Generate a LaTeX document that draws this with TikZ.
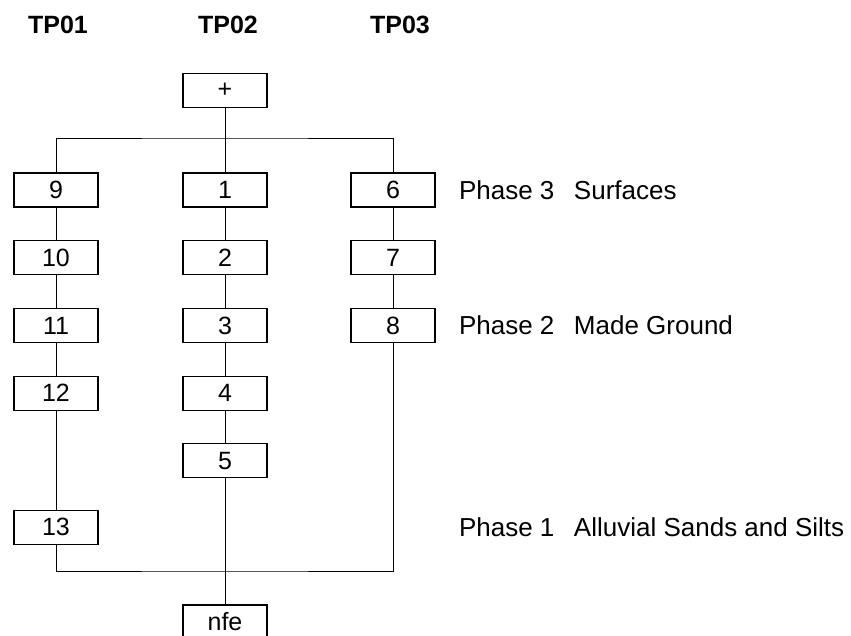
\documentclass[tikz,border=0pt]{standalone}
\usepackage{fontspec}
\setmainfont{Liberation Sans}
\usetikzlibrary{positioning}

\begin{document}
\begin{tikzpicture}[
    x=0.5pt, y=-0.5pt,
    node distance=16.25pt,
    layer/.style={rectangle, draw, line width=0.6pt, minimum width=42pt,
                  minimum height=17pt, inner sep=0pt,
                  font=\fontsize{12.5}{14}\selectfont},
    hole/.style={font=\bfseries\fontsize{12.5}{15}\selectfont},
    phase/.style={inner sep=0pt, font=\fontsize{13}{15}\selectfont},
    link/.style={line width=0.4pt}
  ]
    \useasboundingbox (0,0) rectangle (851,636);

    \node[hole] (tp1) at (58,25) {TP01};
    \node[hole] (tp2) at (228,25) {TP02};
    \node[hole] (tp3) at (400,25) {TP03};

    \node[layer] (plus) at (225,90.5) {+};
    \coordinate (top) at (225,138);
    \coordinate (bot) at (225,571);

    % TP01
    \node[layer] (b9) at (56,190) {9};
    \node[layer, below=of b9] (b10) {10};
    \node[layer, below=of b10] (b11) {11};
    \node[layer, below=of b11] (b12) {12};
    \node[layer, below=49.5pt of b12] (b13) {13};
    % TP02
    \node[layer] (b1) at (225,190) {1};
    \node[layer, below=of b1] (b2) {2};
    \node[layer, below=of b2] (b3) {3};
    \node[layer, below=of b3] (b4) {4};
    \node[layer, below=of b4] (b5) {5};
    % TP03
    \node[layer] (b6) at (393,190) {6};
    \node[layer, below=of b6] (b7) {7};
    \node[layer, below=of b7] (b8) {8};

    \node[layer] (nfe) at (225,622) {nfe};

    \node[phase, right=11.5pt of b6] (p3) {\makebox[57.5pt][l]{Phase 3}Surfaces};
    \node[phase, right=11.5pt of b8] (p2) {\makebox[57.5pt][l]{Phase 2}Made Ground};
    \node[phase, anchor=west] (p1) at (b13 -| p3.west)
      {\makebox[57.5pt][l]{Phase 1}Alluvial Sands and Silts};

    \draw[link] (plus) -- (top);
    \draw[link] (b9.north) |- (top) -| (b6.north);
    \draw[link] (top) -- (b1);
    \draw[link] (b9) -- (b10);
    \draw[link] (b10) -- (b11);
    \draw[link] (b11) -- (b12);
    \draw[link] (b12) -- (b13);
    \draw[link] (b1) -- (b2);
    \draw[link] (b2) -- (b3);
    \draw[link] (b3) -- (b4);
    \draw[link] (b4) -- (b5);
    \draw[link] (b6) -- (b7);
    \draw[link] (b7) -- (b8);
    \draw[link] (b13.south) |- (bot) -| (b8.south);
    \draw[link] (b5) -- (nfe);
\end{tikzpicture}
\end{document}
